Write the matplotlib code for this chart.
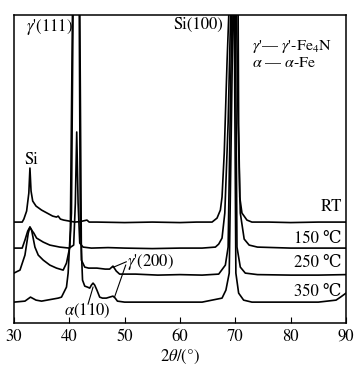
import matplotlib
matplotlib.use("Agg")
import matplotlib.pyplot as plt

plt.rcParams['font.family'] = ['STIXGeneral', 'DejaVu Serif']
plt.rcParams['mathtext.fontset'] = 'stix'

# XRD patterns (2theta in degrees, intensity in arbitrary units with offsets)
rt_x = [30, 31.5, 31.8, 32.3, 32.7, 32.9, 33.1, 33.4, 34, 35, 36, 37, 37.7, 38, 38.4, 39, 40, 41, 42,
        43.2, 43.6, 45, 50, 55, 60, 63, 65.8, 66.7, 67.3, 67.6, 68.0, 68.5, 68.9, 70.5, 70.6, 70.8,
        71.2, 72.1, 73, 76, 80, 85, 90]
rt_y = [101, 101, 104, 112, 130, 155, 132, 122, 117, 113, 110, 107, 106, 107, 104, 103, 102, 101, 101.5,
        103, 101, 101, 100.5, 101, 100.5, 101, 101, 105, 113, 126, 170, 260, 320, 320, 200, 126,
        110, 103, 101, 101, 100.5, 101, 101]

t150_x = [30, 31.5, 32.0, 32.5, 32.9, 33.2, 33.6, 34.1, 35.3, 36.5, 38.3, 40.0, 40.8, 41.1, 41.35, 41.6,
          41.9, 42.5, 44, 47, 50, 55, 60, 64, 66.4, 67.0, 67.6, 68.1, 68.7, 69.2, 70.2, 70.5, 70.9,
          71.6, 72.5, 74, 80, 85, 90]
t150_y = [75, 75, 83, 92, 96, 93, 90, 85, 81, 78, 76, 75, 78, 120, 191, 120,
          80, 76, 75, 75.5, 75, 74.5, 75, 75, 76, 79, 85, 110, 200, 320, 320, 200, 110,
          84, 78, 76, 75, 75, 75]

t250_x = [30, 31.1, 32.0, 32.6, 32.9, 33.2, 33.8, 34.4, 35.3, 36.5, 37.7, 38.9, 39.5, 40.1, 40.4, 40.7,
          41.9, 42.2, 42.8, 43.5, 45, 46.5, 47.3, 47.9, 48.5, 49.1, 52, 56, 60, 64, 67.0, 68.2,
          68.7, 69.4, 70.0, 70.3, 70.9, 71.8, 74, 80, 85, 90]
t250_y = [50, 53, 68, 90, 96, 93, 76, 68, 63, 58, 55, 53, 60, 76, 110, 320,
          320, 63, 56, 55, 55, 54, 54, 57, 52, 49, 49, 48, 48.5, 48, 49, 58,
          76, 320, 320, 76, 56, 50, 48.5, 48, 48, 48.5]

t350_x = [30, 32.0, 33.0, 34.0, 35, 38.0, 38.6, 39.5, 39.8, 40.2, 40.6, 41.8, 42.0, 42.4, 42.8, 43.3,
          43.7, 44.0, 44.3, 44.6, 45.0, 45.5, 46.0, 46.7, 47.3, 47.9, 48.3, 48.7, 50, 55, 60, 64,
          67.6, 68.3, 68.9, 69.6, 69.8, 70.1, 70.6, 71.5, 73, 80, 85, 88.2, 89, 90]
t350_y = [21, 22, 26, 23, 22, 25, 26, 36, 50, 93, 320, 320, 100, 43, 37, 36,
          35, 38, 40, 38, 33, 26, 25, 25, 26, 27, 25, 22, 21, 21, 21, 21,
          25, 33, 50, 320, 320, 50, 30, 23, 21, 21, 21, 23, 26, 30]

curves = [(rt_x, rt_y), (t150_x, t150_y), (t250_x, t250_y), (t350_x, t350_y)]
temp_labels = ["RT", "150 ℃", "250 ℃", "350 ℃"]
label_y = [116, 84, 60, 31]
xticks = [30, 40, 50, 60, 70, 80, 90]

fig = plt.figure(figsize=(3.56, 3.74), dpi=100)
ax = fig.add_axes([0.039, 0.136, 0.933, 0.824])

for x, y in curves:
    ax.plot(x, y, color='black', lw=1.2)

for lab, ly in zip(temp_labels, label_y):
    ax.text(89.2, ly, lab, ha='right', va='center', fontsize=12)

ax.text(40.6, 296, r"$\gamma$'(111)", ha='right', va='center', fontsize=12)
ax.text(67.8, 298, "Si(100)", ha='right', va='center', fontsize=12)
ax.text(33.2, 163, "Si", ha='center', va='center', fontsize=12)
ax.text(73.0, 276, r"$\gamma$'— $\gamma$'-Fe$_4$N", ha='left', va='center', fontsize=11.5)
ax.text(73.0, 260, r"$\alpha$ — $\alpha$-Fe", ha='left', va='center', fontsize=11.5)

ax.text(50.5, 61, r"$\gamma$'(200)", ha='left', va='center', fontsize=12)
ax.plot([50.3, 47.9], [61.3, 55.7], color='black', lw=0.8)
ax.plot([50.2, 48.2], [58, 26.3], color='black', lw=0.8)

ax.text(43.2, 12, r"$\alpha$(110)", ha='center', va='center', fontsize=12)
ax.plot([43.4, 44.3], [19, 36], color='black', lw=0.8)

ax.set_xlim(30, 90)
ax.set_ylim(0, 308)
ax.set_xticks(xticks)
ax.set_yticks([])
ax.tick_params(axis='x', direction='in', length=4, labelsize=12, pad=4)
for s in ax.spines.values():
    s.set_linewidth(1.1)
ax.set_xlabel(r"2$\theta$/(°)", fontsize=12, labelpad=2)

fig.savefig("out.png", dpi=100)
